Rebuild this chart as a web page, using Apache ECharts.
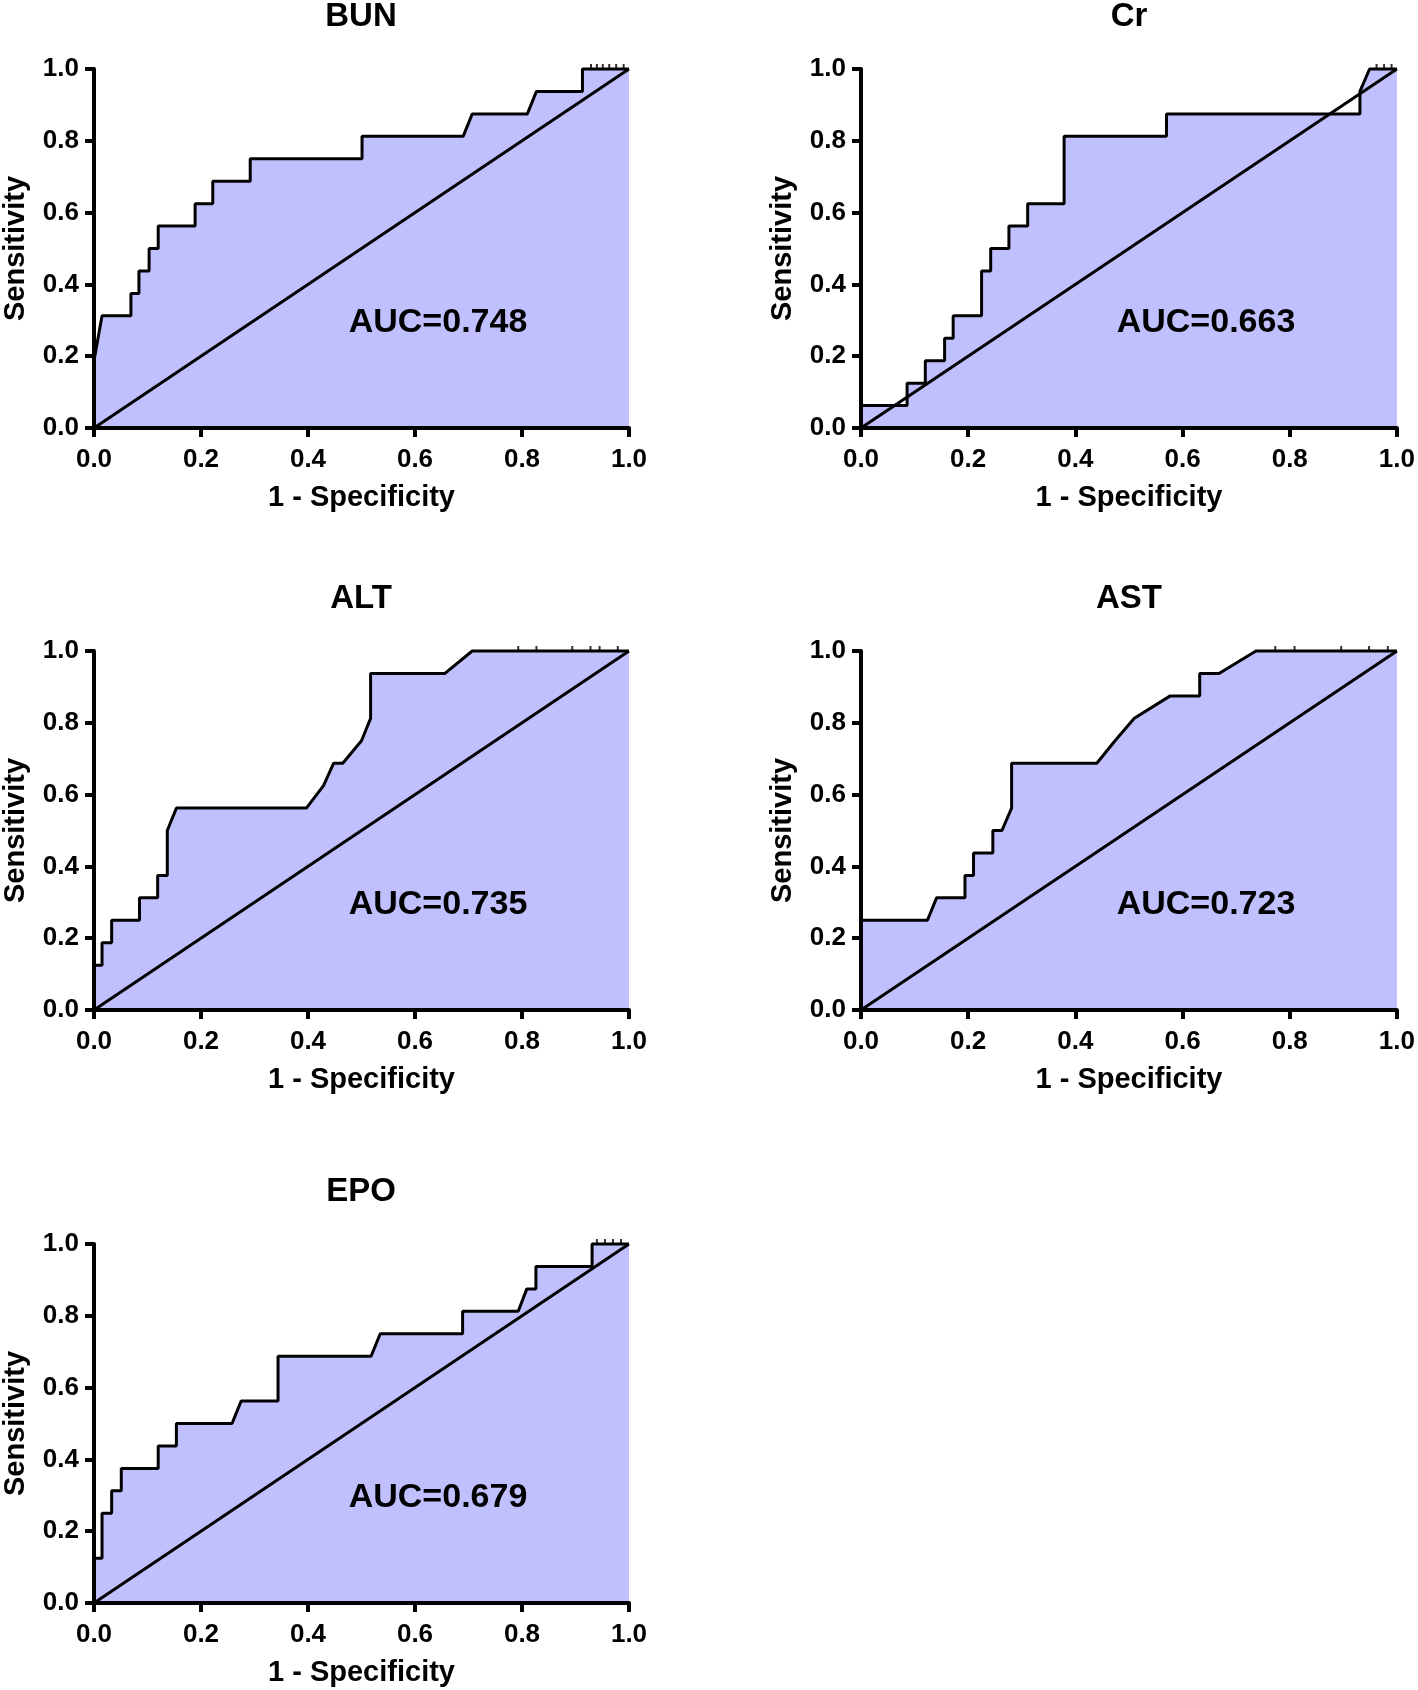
<!DOCTYPE html>
<html>
<head>
<meta charset="utf-8">
<script src="https://cdn.jsdelivr.net/npm/echarts@6/dist/echarts.min.js"></script>
<style>html,body{margin:0;padding:0;background:#fff;}#c{width:1418px;height:1690px;}</style>
</head>
<body>
<div id="c"></div>
<script>
// ---- data ----
const panelNames = ['BUN', 'Cr', 'ALT', 'AST', 'EPO'];
const aucLabels = ['AUC=0.748', 'AUC=0.663', 'AUC=0.735', 'AUC=0.723', 'AUC=0.679'];
const axisTicks = [0, 0.2, 0.4, 0.6, 0.8, 1.0];
const xAxisTitle = '1 - Specificity';
const yAxisTitle = 'Sensitivity';

const bunFpr = [0, 0, 0.015, 0.069, 0.069, 0.084, 0.084, 0.103, 0.103, 0.12, 0.12, 0.189, 0.189, 0.222, 0.222, 0.292, 0.292, 0.501, 0.501, 0.69, 0.707, 0.81, 0.827, 0.913, 0.913, 1];
const bunTpr = [0, 0.1875, 0.3125, 0.3125, 0.375, 0.375, 0.4375, 0.4375, 0.5, 0.5, 0.5625, 0.5625, 0.625, 0.625, 0.6875, 0.6875, 0.75, 0.75, 0.8125, 0.8125, 0.875, 0.875, 0.9375, 0.9375, 1, 1];

const crFpr = [0, 0, 0.086, 0.086, 0.12, 0.12, 0.156, 0.156, 0.172, 0.172, 0.225, 0.225, 0.242, 0.242, 0.276, 0.276, 0.311, 0.311, 0.379, 0.379, 0.57, 0.57, 0.931, 0.931, 0.949, 1];
const crTpr = [0, 0.0625, 0.0625, 0.125, 0.125, 0.1875, 0.1875, 0.25, 0.25, 0.3125, 0.3125, 0.4375, 0.4375, 0.5, 0.5, 0.5625, 0.5625, 0.625, 0.625, 0.8125, 0.8125, 0.875, 0.875, 0.9375, 1, 1];

const altFpr = [0, 0, 0.015, 0.015, 0.033, 0.033, 0.085, 0.085, 0.119, 0.119, 0.137, 0.137, 0.154, 0.397, 0.429, 0.448, 0.465, 0.5, 0.517, 0.517, 0.656, 0.707, 1];
const altTpr = [0, 0.125, 0.125, 0.1875, 0.1875, 0.25, 0.25, 0.3125, 0.3125, 0.375, 0.375, 0.5, 0.5625, 0.5625, 0.625, 0.6875, 0.6875, 0.75, 0.8125, 0.9375, 0.9375, 1, 1];

const astFpr = [0, 0, 0.124, 0.141, 0.194, 0.194, 0.21, 0.21, 0.246, 0.246, 0.263, 0.281, 0.281, 0.44, 0.474, 0.51, 0.577, 0.632, 0.632, 0.668, 0.737, 1];
const astTpr = [0, 0.25, 0.25, 0.3125, 0.3125, 0.375, 0.375, 0.4375, 0.4375, 0.5, 0.5, 0.5625, 0.6875, 0.6875, 0.75, 0.8125, 0.875, 0.875, 0.9375, 0.9375, 1, 1];

const epoFpr = [0, 0, 0.015, 0.015, 0.033, 0.033, 0.051, 0.051, 0.12, 0.12, 0.154, 0.154, 0.258, 0.275, 0.344, 0.344, 0.518, 0.535, 0.689, 0.689, 0.793, 0.809, 0.826, 0.826, 0.931, 0.931, 1];
const epoTpr = [0, 0.125, 0.125, 0.25, 0.25, 0.3125, 0.3125, 0.375, 0.375, 0.4375, 0.4375, 0.5, 0.5, 0.5625, 0.5625, 0.6875, 0.6875, 0.75, 0.75, 0.8125, 0.8125, 0.875, 0.875, 0.9375, 0.9375, 1, 1];

// small marks sitting on the sensitivity = 1 line
const bunMarks = [0.929, 0.94, 0.951, 0.963, 0.976, 0.99];
const crMarks = [0.962, 0.976, 0.99];
const altMarks = [0.793, 0.827, 0.894, 0.928, 0.945, 0.979];
const astMarks = [0.773, 0.809, 0.896, 0.948, 0.983];
const epoMarks = [0.94, 0.955, 0.97, 0.985];

const diagX = [0, 1];
const diagY = [0, 1];

// ---- layout ----
const fprs = [bunFpr, crFpr, altFpr, astFpr, epoFpr];
const tprs = [bunTpr, crTpr, altTpr, astTpr, epoTpr];
const marks = [bunMarks, crMarks, altMarks, astMarks, epoMarks];
const lefts = [93, 861, 93, 861, 93];
const tops = [69, 69, 651, 651, 1244];
const W = 536, H = 359;
const FONT = "'Liberation Sans', Arial, sans-serif";
const fillColor = '#C0C0FF';

const grids = [], xAxes = [], yAxes = [], series = [], graphics = [];
panelNames.forEach((name, i) => {
  grids.push({ left: lefts[i], top: tops[i], width: W, height: H });
  const common = {
    type: 'value', min: 0, max: 1, interval: 0.2, gridIndex: i, z: 10,
    splitLine: { show: false },
    axisLine: { show: true, onZero: false, lineStyle: { color: '#000', width: 4 } },
    axisTick: { show: true, inside: false, length: 9, lineStyle: { color: '#000', width: 4 } },
    axisLabel: { color: '#000', fontSize: 26, fontWeight: 'bold', fontFamily: FONT,
      formatter: v => v.toFixed(1) },
    nameTextStyle: { color: '#000', fontSize: 29, fontWeight: 'bold', fontFamily: FONT },
    nameLocation: 'middle'
  };
  xAxes.push(Object.assign({}, common, {
    name: xAxisTitle, nameGap: 55,
    axisLabel: Object.assign({}, common.axisLabel, { margin: 19 })
  }));
  yAxes.push(Object.assign({}, common, {
    name: yAxisTitle, nameGap: 64,
    axisLabel: Object.assign({}, common.axisLabel, { margin: 15 })
  }));
  const pts = fprs[i].map((x, k) => [x, tprs[i][k]]);
  series.push({
    type: 'line', xAxisIndex: i, yAxisIndex: i, data: pts, showSymbol: false, symbol: 'none',
    clip: false, z: 2,
    lineStyle: { color: '#000', width: 3 },
    areaStyle: { color: fillColor, opacity: 1 }
  });
  series.push({
    type: 'line', xAxisIndex: i, yAxisIndex: i, data: diagX.map((x, k) => [x, diagY[k]]),
    showSymbol: false, symbol: 'none', clip: false, z: 3,
    lineStyle: { color: '#000', width: 3 }
  });
  series.push({
    type: 'scatter', xAxisIndex: i, yAxisIndex: i, data: marks[i].map(x => [x, 1]),
    symbol: 'rect', symbolSize: [2, 4], symbolOffset: [0, -3], z: 4,
    itemStyle: { color: '#000' }, silent: true
  });
  graphics.push({
    type: 'text', x: lefts[i] + W / 2, y: tops[i] - 52,
    style: { text: name, fill: '#000', font: 'bold 33px ' + FONT,
      textAlign: 'center', textVerticalAlign: 'middle' }
  });
  graphics.push({
    type: 'text', x: lefts[i] + 345, y: tops[i] + 254, z: 20,
    style: { text: aucLabels[i], fill: '#000', font: 'bold 34px ' + FONT,
      textAlign: 'center', textVerticalAlign: 'middle' }
  });
});

const chart = echarts.init(document.getElementById('c'), null, { renderer: 'canvas' });
chart.setOption({
  backgroundColor: '#fff',
  animation: false,
  grid: grids,
  xAxis: xAxes,
  yAxis: yAxes,
  series: series,
  graphic: graphics
});
</script>
</body>
</html>
